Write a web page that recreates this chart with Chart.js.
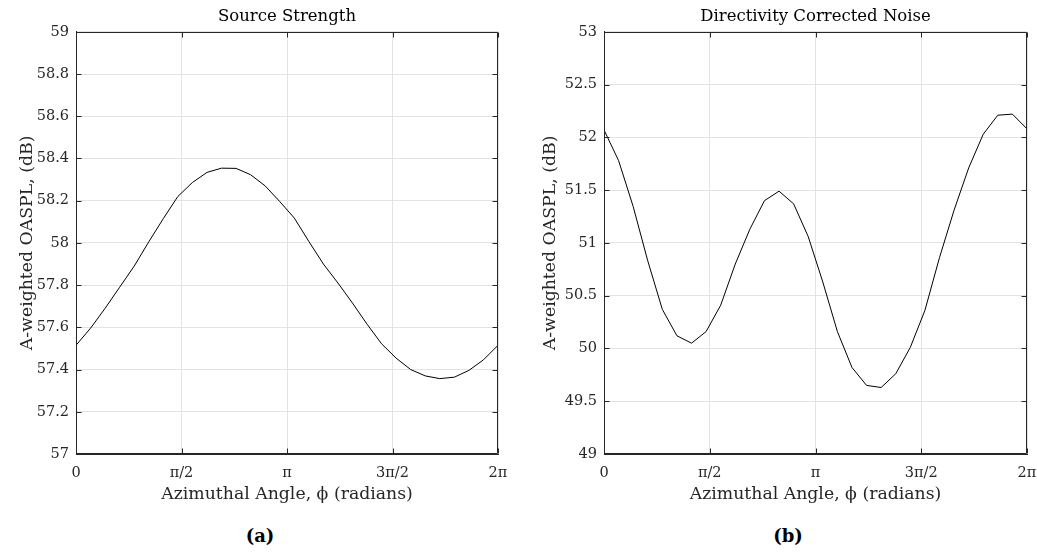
<!DOCTYPE html>
<html>
<head>
<meta charset="utf-8">
<script src="https://cdn.jsdelivr.net/npm/chart.js@4.4.1/dist/chart.umd.min.js"></script>
<style>
  body { margin: 0; background: #fff; }
  #wrap { position: relative; width: 1037px; height: 555px; overflow: hidden; }
  canvas { position: absolute; top: 0; }
  .panel { position: absolute; top: 525px; font: bold 18px "DejaVu Serif", serif; color: #000; transform: translateX(-50%); }
</style>
</head>
<body>
<div id="wrap">
  <canvas id="chartA" style="left:0px"></canvas>
  <canvas id="chartB" style="left:518px"></canvas>
  <div class="panel" style="left:260px">(a)</div>
  <div class="panel" style="left:788px">(b)</div>
</div>
<script>
// azimuthal angle samples (radians), 30 points from 0 to 2pi
const angles = [0, 0.2167, 0.4333, 0.6500, 0.8666, 1.0833, 1.3000, 1.5166, 1.7333, 1.9500,
    2.1666, 2.3833, 2.5999, 2.8166, 3.0333, 3.2499, 3.4666, 3.6833, 3.8999, 4.1166,
    4.3332, 4.5499, 4.7666, 4.9832, 5.1999, 5.4166, 5.6332, 5.8499, 6.0665, 6.2832];

// (a) source strength, dB
const sourceStrength = [57.515, 57.596, 57.69, 57.79, 57.89, 58.005, 58.115, 58.22, 58.286, 58.334,
    58.354, 58.353, 58.323, 58.27, 58.196, 58.118, 58.007, 57.90, 57.81, 57.715,
    57.615, 57.522, 57.454, 57.40, 57.37, 57.357, 57.364, 57.396, 57.446, 57.515];

// (b) directivity corrected noise, dB
const correctedNoise = [52.07, 51.78, 51.345, 50.83, 50.37, 50.12, 50.05, 50.16, 50.41, 50.80,
    51.13, 51.40, 51.49, 51.37, 51.06, 50.63, 50.16, 49.82, 49.65, 49.63,
    49.76, 50.01, 50.36, 50.86, 51.31, 51.71, 52.03, 52.21, 52.22, 52.08];

const xTickValues = [0, 1.5708, 3.1416, 4.7124, 6.2832];
const xTickLabels = ['0', 'π/2', 'π', '3π/2', '2π'];

const yTicksA = [57, 57.2, 57.4, 57.6, 57.8, 58, 58.2, 58.4, 58.6, 58.8, 59];
const yLabelsA = ['57', '57.2', '57.4', '57.6', '57.8', '58', '58.2', '58.4', '58.6', '58.8', '59'];
const yTicksB = [49, 49.5, 50, 50.5, 51, 51.5, 52, 52.5, 53];
const yLabelsB = ['49', '49.5', '50', '50.5', '51', '51.5', '52', '52.5', '53'];

const axisColor = '#262626';
const serif = '"DejaVu Serif", "Liberation Serif", serif';

// MATLAB style box with inward ticks
const boxPlugin = {
    id: 'box',
    afterDatasetsDraw(chart) {
        const { ctx, chartArea: a, scales } = chart;
        const L = Math.round(a.left) + 0.5, R = Math.round(a.right) - 0.5;
        const T = Math.round(a.top) + 0.5, B = Math.round(a.bottom) - 0.5;
        ctx.save();
        ctx.strokeStyle = axisColor;
        ctx.lineWidth = 1;
        ctx.beginPath();
        ctx.rect(L, T, R - L, B - T);
        scales.x.ticks.forEach(t => {
            const x = Math.round(scales.x.getPixelForValue(t.value)) + 0.5;
            ctx.moveTo(x, B); ctx.lineTo(x, B - 5);
            ctx.moveTo(x, T); ctx.lineTo(x, T + 5);
        });
        scales.y.ticks.forEach(t => {
            const y = Math.round(scales.y.getPixelForValue(t.value)) + 0.5;
            ctx.moveTo(L, y); ctx.lineTo(L + 5, y);
            ctx.moveTo(R, y); ctx.lineTo(R - 5, y);
        });
        ctx.stroke();
        ctx.restore();
    }
};

function makeChart(id, cfg) {
    const canvas = document.getElementById(id);
    canvas.width = cfg.width;
    canvas.height = 520;
    canvas.style.width = cfg.width + 'px';
    canvas.style.height = '520px';

    return new Chart(canvas.getContext('2d'), {
        type: 'line',
        data: {
            datasets: [{
                data: angles.map((a, i) => ({ x: a, y: cfg.values[i] })),
                borderColor: '#000',
                borderWidth: 1,
                pointRadius: 0,
                tension: 0,
                fill: false
            }]
        },
        options: {
            responsive: false,
            animation: false,
            devicePixelRatio: 1,
            layout: { padding: { top: 0, right: cfg.rightPad, bottom: 0, left: 0 } },
            plugins: {
                legend: { display: false },
                tooltip: { enabled: false },
                title: {
                    display: true,
                    text: cfg.title,
                    fullSize: false,
                    color: '#000',
                    font: { family: serif, size: 16.5, weight: 'normal' },
                    padding: { top: 7, bottom: 5 }
                }
            },
            scales: {
                x: {
                    type: 'linear',
                    min: 0,
                    max: 2 * Math.PI,
                    afterBuildTicks: s => { s.ticks = xTickValues.map(v => ({ value: v })); },
                    afterFit: s => { s.height = 66; },
                    grid: { color: '#e3e3e3', drawTicks: false },
                    border: { color: axisColor },
                    ticks: {
                        padding: 11,
                        color: axisColor,
                        font: { family: serif, size: 14.5 },
                        callback: (v, i) => xTickLabels[i]
                    },
                    title: {
                        display: true,
                        text: 'Azimuthal Angle, ϕ (radians)',
                        color: axisColor,
                        font: { family: serif, size: 17.3 },
                        padding: { top: 0, bottom: 15 }
                    }
                },
                y: {
                    min: cfg.yTicks[0],
                    max: cfg.yTicks[cfg.yTicks.length - 1],
                    afterBuildTicks: s => { s.ticks = cfg.yTicks.map(v => ({ value: v })); },
                    afterFit: s => { s.width = cfg.yWidth; },
                    grid: { color: '#e3e3e3', drawTicks: false },
                    border: { color: axisColor },
                    ticks: {
                        padding: 7,
                        color: axisColor,
                        font: { family: serif, size: 14.5 },
                        callback: (v, i) => cfg.yLabels[i]
                    },
                    title: {
                        display: true,
                        text: 'A-weighted OASPL, (dB)',
                        color: axisColor,
                        font: { family: serif, size: 17.3 },
                        padding: { top: cfg.yTitlePad, bottom: 0 }
                    }
                }
            }
        },
        plugins: [boxPlugin]
    });
}

makeChart('chartA', {
    width: 540, rightPad: 42, yWidth: 76, yTitlePad: 17,
    title: 'Source Strength', values: sourceStrength,
    yTicks: yTicksA, yLabels: yLabelsA
});

makeChart('chartB', {
    width: 540, rightPad: 31, yWidth: 86, yTitlePad: 22,
    title: 'Directivity Corrected Noise', values: correctedNoise,
    yTicks: yTicksB, yLabels: yLabelsB
});
</script>
</body>
</html>
